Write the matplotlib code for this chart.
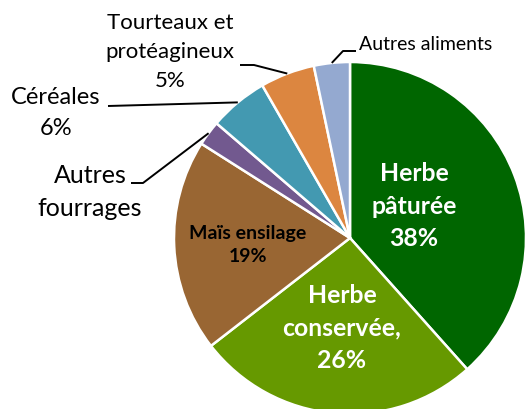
import numpy as np
import matplotlib
matplotlib.use("Agg")
import matplotlib.pyplot as plt

plt.rcParams['font.family'] = ['Lato', 'DejaVu Sans']

# parts of the ration (%), clockwise from the top
names = ['Herbe pâturée', 'Herbe conservée', 'Maïs ensilage', 'Autres fourrages',
         'Céréales', 'Tourteaux et protéagineux', 'Autres aliments']
shares = [38.4, 26.1, 19.5, 2.3, 5.4, 5.0, 3.3]
pct_labels = ['38%', '26%', '19%', '', '6%', '5%', '']
colors = ['#006600', '#669900', '#996633', '#72598f', '#4399b1', '#dc8640', '#94a9d0']

W, H = 532, 409
cx, cy, R = 350, H - 238, 176

fig = plt.figure(figsize=(W / 100, H / 100), dpi=100)
ax = fig.add_axes([0, 0, 1, 1])

wedges, _ = ax.pie(shares, colors=colors, startangle=90, counterclock=False,
                   center=(cx, cy), radius=R, frame=True,
                   wedgeprops=dict(edgecolor='white', linewidth=1.8))
ax.set_xlim(0, W)
ax.set_ylim(0, H)
ax.set_aspect('equal')
ax.axis('off')


def rim(i):
    w = wedges[i]
    a = np.deg2rad((w.theta1 + w.theta2) / 2)
    return cx + R * np.cos(a), cy + R * np.sin(a)


def Y(y):
    return H - y


# inside labels
ax.text(414, Y(206), 'Herbe\npâturée\n38%', color='white', fontsize=17.8,
        fontweight='bold', ha='center', va='center', linespacing=1.52)
ax.text(342, Y(328), 'Herbe\nconservée,\n26%', color='white', fontsize=17.8,
        fontweight='bold', ha='center', va='center', linespacing=1.52)
ax.text(248, Y(245), 'Maïs ensilage\n19%', color='black', fontsize=14,
        fontweight='bold', ha='center', va='center', linespacing=1.45)

# outside labels with leader lines
lk = dict(color='black', lw=1.4, solid_capstyle='butt')

x0, y0 = rim(6)
ax.plot([x0, 343, 356], [y0, Y(51), Y(51)], **lk)
ax.text(359, Y(45), names[6], fontsize=14, ha='left', va='center')

x0, y0 = rim(5)
ax.plot([x0, 254, 240], [y0, Y(65), Y(65)], **lk)
ax.text(170, Y(52), 'Tourteaux et\nprotéagineux\n' + pct_labels[5], fontsize=16,
        ha='center', va='center', linespacing=1.55)

x0, y0 = rim(4)
ax.plot([x0, 108], [y0, Y(106)], **lk)
ax.text(56, Y(113), names[4] + '\n' + pct_labels[4], fontsize=17,
        ha='center', va='center', linespacing=1.6)

x0, y0 = rim(3)
ax.plot([x0, 143, 131], [y0, Y(183), Y(183)], **lk)
ax.text(90, Y(192), 'Autres\nfourrages', fontsize=18,
        ha='center', va='center', linespacing=1.55)

fig.savefig('out.png', dpi=100)
